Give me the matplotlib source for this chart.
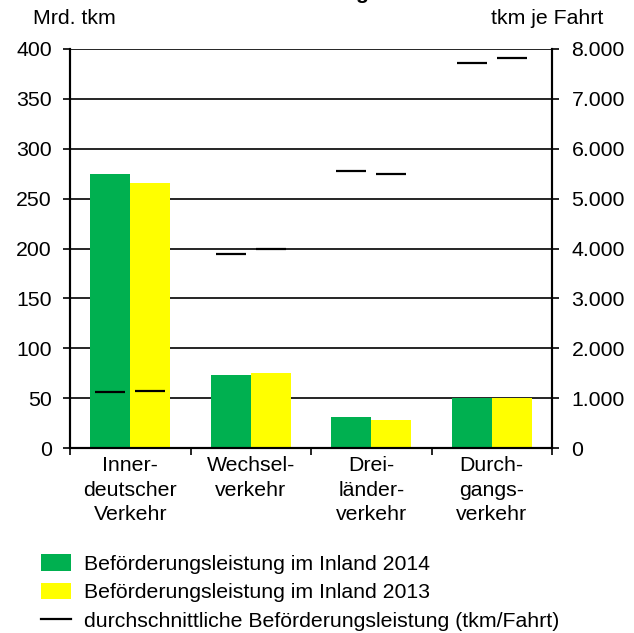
import matplotlib
matplotlib.use("Agg")
import matplotlib.pyplot as plt
from matplotlib.ticker import FuncFormatter, FixedLocator
from matplotlib.patches import Patch
from matplotlib.lines import Line2D
import numpy as np

plt.rcParams['font.family'] = ['Liberation Sans', 'DejaVu Sans']

categories = ["Inner-\ndeutscher\nVerkehr", "Wechsel-\nverkehr", "Drei-\nländer-\nverkehr", "Durch-\ngangs-\nverkehr"]
leistung_2014 = [275, 73, 31, 50]
leistung_2013 = [266, 75, 28, 50]
avg_2014 = [1120, 3880, 5550, 7720]
avg_2013 = [1140, 4000, 5490, 7820]
left_ticks = [0, 50, 100, 150, 200, 250, 300, 350, 400]
right_ticks = [0, 1000, 2000, 3000, 4000, 5000, 6000, 7000, 8000]
labels = ["Beförderungsleistung im Inland 2014",
          "Beförderungsleistung im Inland 2013",
          "durchschnittliche Beförderungsleistung (tkm/Fahrt)"]

GREEN = "#00B050"
YELLOW = "#FFFF00"
FS = 15.3

W, H = 634, 633
fig = plt.figure(figsize=(W / 100, H / 100), dpi=100)
ax = fig.add_axes([70 / W, 1 - 448 / H, (552 - 70) / W, (448 - 49) / H])
ax2 = ax.twinx()

x = np.arange(len(categories))
bw = 1 / 3
ax.bar(x - bw / 2, leistung_2014, width=bw, color=GREEN, zorder=2)
ax.bar(x + bw / 2, leistung_2013, width=bw, color=YELLOW, zorder=2)
ax.set_xlim(-0.5, len(categories) - 0.5)
ax.set_ylim(0, 400)
ax.set_yticks(left_ticks)
ax.yaxis.grid(True, color='black', linewidth=1.2)
ax.set_axisbelow(True)

lw_half = 0.125
ax2.hlines(avg_2014, x - bw / 2 - lw_half, x - bw / 2 + lw_half, color='black', linewidth=1.6)
ax2.hlines(avg_2013, x + bw / 2 - lw_half, x + bw / 2 + lw_half, color='black', linewidth=1.6)
ax2.set_ylim(0, 8000)
ax2.set_yticks(right_ticks)
ax2.yaxis.set_major_formatter(FuncFormatter(lambda v, p: f"{int(v):,}".replace(",", ".")))

ax.set_xticks(x)
ax.set_xticklabels(categories, fontsize=FS, linespacing=1.37)
ax.xaxis.set_minor_locator(FixedLocator(np.arange(-0.5, len(categories), 1.0)))
ax.tick_params(axis='x', which='major', length=0, pad=6)
ax.tick_params(axis='x', which='minor', length=5, width=1.2, direction='out')
ax.tick_params(axis='y', length=5, width=1.2, direction='out', labelsize=FS, pad=8)
ax2.tick_params(axis='y', length=5, width=1.2, direction='out', labelsize=FS, pad=9)

for a in (ax, ax2):
    a.spines['top'].set_visible(False)
    for s in ('left', 'right', 'bottom'):
        a.spines[s].set_linewidth(1.5)
        a.spines[s].set_color('black')

fig.text(33 / W, 1 - 18 / H, "Mrd. tkm", fontsize=FS, ha='left', va='center')
fig.text(603 / W, 1 - 18 / H, "tkm je Fahrt", fontsize=FS, ha='right', va='center')
# cropped title: only the descender remains visible
fig.text(362 / W, 1 + 1 / H, "g", fontsize=FS, fontweight='bold', ha='center', va='baseline')

handles = [Patch(facecolor=GREEN, edgecolor='none'),
           Patch(facecolor=YELLOW, edgecolor='none'),
           Line2D([0], [0], color='black', linewidth=1.6)]
fig.legend(handles, labels, loc='upper left', bbox_to_anchor=(41 / W, 1 - 554 / H),
           frameon=False, fontsize=FS, handlelength=1.42, handleheight=0.82,
           handletextpad=0.62, labelspacing=0.42, borderaxespad=0, borderpad=0)

fig.savefig("out.png", dpi=100)
